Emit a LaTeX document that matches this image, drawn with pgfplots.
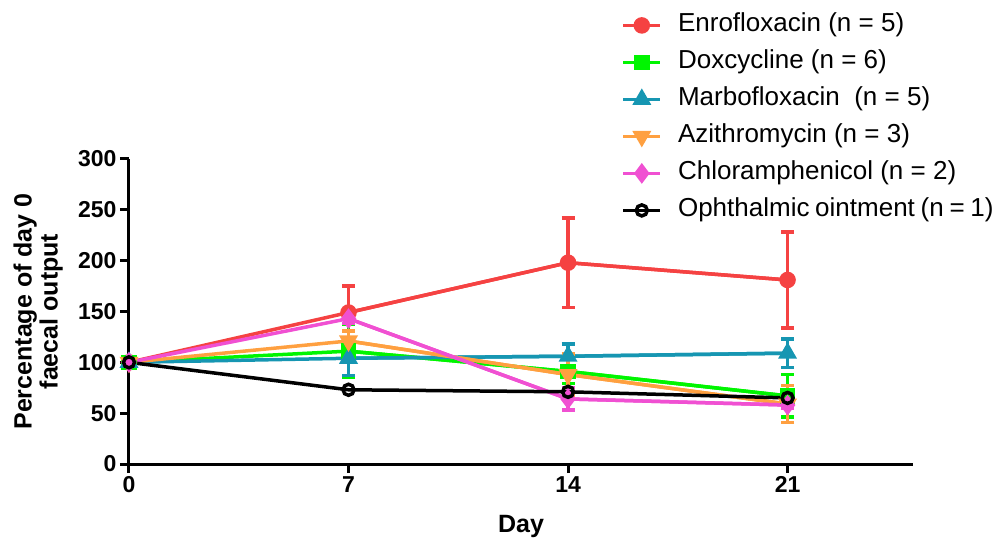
\documentclass[border=0pt]{standalone}
\usepackage{pgfplots}
\pgfplotsset{compat=1.18}
\usepackage{fontspec}
\setmainfont{Liberation Sans}
\definecolor{cE}{RGB}{245,66,66}
\definecolor{cD}{RGB}{0,245,0}
\definecolor{cM}{RGB}{22,150,178}
\definecolor{cA}{RGB}{255,160,64}
\definecolor{cC}{RGB}{240,80,210}
\pgfplotsset{
  eb/.style={line width=3.5pt, forget plot,
    error bars/.cd, y dir=both, y explicit, error mark=-,
    error bar style={line width=3.5pt, solid},
    error mark options={rotate=90, solid, line width=3.5pt, mark size=6.5pt}},
}
\begin{document}
\begin{tikzpicture}
\useasboundingbox (-129pt,-79pt) rectangle (874pt,464pt);
\begin{axis}[
  at={(0pt,0pt)}, anchor=south west,
  scale only axis, width=784pt, height=305pt,
  xmin=0, xmax=25, ymin=0, ymax=300,
  axis x line*=bottom, axis y line*=left,
  axis line style={line width=3pt},
  xtick={0,7,14,21}, ytick={0,50,...,300},
  tick align=outside, major tick length=9pt,
  every tick/.style={black, line width=3pt},
  /pgf/number format/assume math mode=true,
  tick label style={font=\bfseries\fontsize{23}{26}\selectfont},
  xlabel={Day}, ylabel={Percentage of day 0\\faecal output},
  label style={font=\bfseries\fontsize{25}{26}\selectfont},
  xlabel style={at={(rel axis cs:0.5,0)}, anchor=base, yshift=-68pt, inner sep=0pt},
  ylabel style={at={(axis description cs:-0.116,0.5)}, anchor=center, align=center, inner sep=0pt},
  clip=false,
  legend cell align=left,
  legend image code/.code={\draw[mark repeat=2,mark phase=2,#1] plot coordinates {(0pt,0pt) (18.5pt,0pt) (37pt,0pt)};},
  legend style={at={(rel axis cs:0.628,1.478)}, anchor=north west, draw=none, fill=none,
    inner sep=0pt, font=\fontsize{26}{30}\selectfont, row sep=13pt, column sep=16pt,
    nodes={inner sep=0pt, text height=18pt, text depth=6pt}},
]
% Enrofloxacin
\addplot[cE, eb] table[x=d,y=m,y error=e]{
d m e
7 149 26
14 198 44
21 181 47
};
\addplot[cE, line width=3.5pt, mark=*, mark size=6.5pt, mark options={solid, fill=cE}] table[x=d,y=m]{
d m
0 100
7 149
14 198
21 181
};
\addlegendentry{Enrofloxacin (n = 5)}
% Doxycycline
\addplot[cD, eb] table[x=d,y=m,y error=e]{
d m e
7 111 26
14 91 12
21 67 21
};
\addplot[cD, line width=3.5pt, mark=square*, mark size=6pt, mark options={solid, fill=cD}] table[x=d,y=m]{
d m
0 100
7 111
14 91
21 67
};
\addlegendentry{Doxcycline (n = 6)}
% Marbofloxacin
\addplot[cM, eb] table[x=d,y=m,y error=e]{
d m e
7 104 17
14 106 12
21 109 14
};
\addplot[cM, line width=3.5pt, mark=triangle*, mark size=7.5pt, mark options={solid, fill=cM}] table[x=d,y=m]{
d m
0 100
7 104
14 106
21 109
};
\addlegendentry{Marbofloxacin\ \ (n = 5)}
% Azithromycin
\addplot[cA, eb] table[x=d,y=m,y error=e]{
d m e
7 121 10
14 88 20
21 59 18
};
\addplot[cA, line width=3.5pt, mark=triangle*, mark size=7.5pt, mark options={solid, fill=cA, rotate=180}] table[x=d,y=m]{
d m
0 100
7 121
14 88
21 59
};
\addlegendentry{Azithromycin (n = 3)}
% Chloramphenicol
\addplot[cC, eb] table[x=d,y=m,y error=e]{
d m e
7 143 5
14 64 11
21 58 3
};
\addplot[cC, line width=3.5pt, mark=diamond*, mark size=7.5pt, mark options={solid, fill=cC}] table[x=d,y=m]{
d m
0 100
7 143
14 64
21 58
};
\addlegendentry{Chloramphenicol (n = 2)}
% Ophthalmic ointment
\addplot[black, line width=3.5pt, mark=o, mark size=5.5pt, mark options={solid, line width=3.5pt}] table[x=d,y=m]{
d m
0 100
7 73
14 71
21 65
};
\addlegendentry{{\spaceskip=0.22em plus 0.05em minus 0.05em Ophthalmic ointment (n = 1)}}
\end{axis}
\end{tikzpicture}
\end{document}
